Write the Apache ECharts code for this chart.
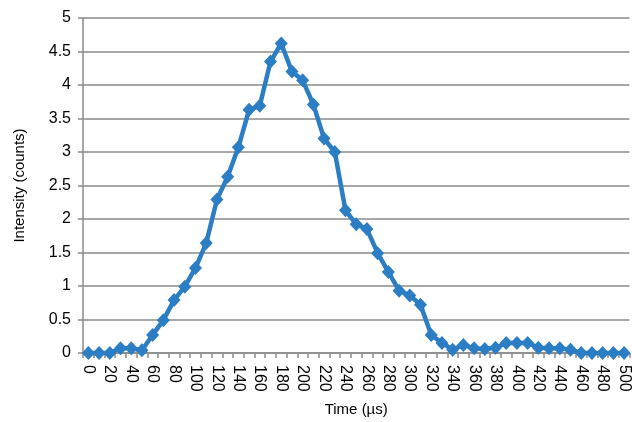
<!DOCTYPE html>
<html>
<head>
<meta charset="utf-8">
<script src="https://cdn.jsdelivr.net/npm/echarts@6/dist/echarts.min.js"></script>
<style>
html,body{margin:0;padding:0;background:#fff;}
#chart{width:632px;height:422px;}
</style>
</head>
<body>
<div id="chart"></div>
<script>
const timeCategories = ['0','10','20','30','40','50','60','70','80','90','100','110','120','130','140','150','160','170','180','190','200','210','220','230','240','250','260','270','280','290','300','310','320','330','340','350','360','370','380','390','400','410','420','430','440','450','460','470','480','490','500'];
const intensityValues = [0,0,0,0.07,0.07,0.04,0.27,0.49,0.79,0.99,1.27,1.64,2.29,2.63,3.07,3.63,3.69,4.35,4.62,4.2,4.07,3.71,3.2,3.0,2.13,1.92,1.85,1.49,1.21,0.93,0.86,0.72,0.27,0.15,0.05,0.12,0.07,0.06,0.08,0.15,0.15,0.15,0.08,0.07,0.07,0.05,0,0,0,0,0];
const yTicks = {min:0, max:5, interval:0.5};
const xTitle = 'Time (µs)';
const yTitle = 'Intensity (counts)';

const chart = echarts.init(document.getElementById('chart'), null, {renderer:'canvas'});
const gray = '#8a8a8a';
const font = '"Liberation Sans", Arial, sans-serif';
chart.setOption({
  animation:false,
  backgroundColor:'#fff',
  grid:{left:83, top:18, width:555, bottom:67, containLabel:false},
  xAxis:{
    type:'category',
    data:timeCategories,
    boundaryGap:true,
    name:xTitle,
    nameLocation:'middle',
    nameGap:49,
    nameTextStyle:{fontFamily:font, fontSize:15, color:'#000'},
    axisLine:{lineStyle:{color:gray, width:1.5}},
    axisTick:{show:true, interval:0, length:5, lineStyle:{color:gray, width:1.5}},
    axisLabel:{interval:1, rotate:-90, fontFamily:font, fontSize:16, color:'#000', margin:12},
    splitLine:{show:false}
  },
  yAxis:{
    type:'value',
    min:yTicks.min, max:yTicks.max, interval:yTicks.interval,
    name:yTitle,
    nameLocation:'middle',
    nameGap:56,
    nameTextStyle:{fontFamily:font, fontSize:15, color:'#000'},
    axisLine:{show:true, lineStyle:{color:gray, width:1.5}},
    axisTick:{show:true, length:5, lineStyle:{color:gray, width:1.5}},
    axisLabel:{fontFamily:font, fontSize:16, color:'#000', margin:12},
    splitLine:{lineStyle:{color:gray, width:1.5}}
  },
  series:[{
    type:'line',
    data:intensityValues,
    symbol:'diamond',
    symbolSize:[13,14],
    showAllSymbol:true,
    lineStyle:{color:'#2b7dc4', width:4.5},
    itemStyle:{color:'#2b7dc4'},
    clip:false
  }]
});
</script>
</body>
</html>
